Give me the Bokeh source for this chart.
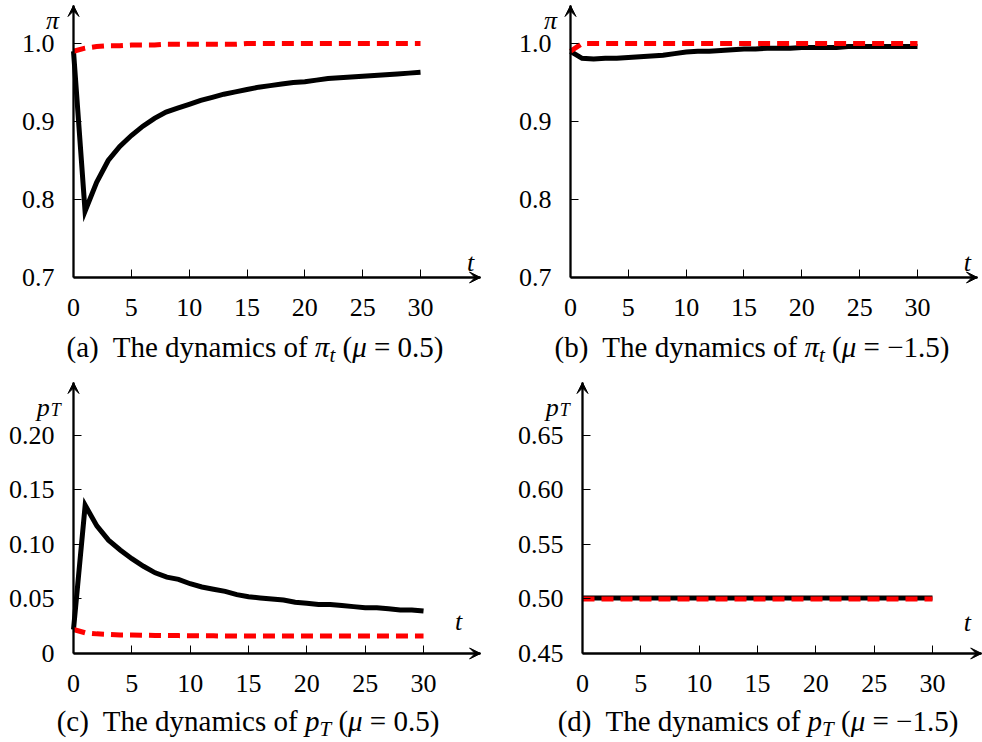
from bokeh.plotting import figure
from bokeh.models import FixedTicker, Label, Arrow, VeeHead, Div, Range1d
from bokeh.layouts import column, row
from bokeh.embed import file_html
from bokeh.resources import INLINE

# ---------------- data ----------------
t = [0, 1, 2, 3, 4, 5, 6, 7, 8, 9, 10, 11, 12, 13, 14, 15, 16, 17, 18, 19, 20,
     21, 22, 23, 24, 25, 26, 27, 28, 29, 30]

pi_a_black = [0.990, 0.785, 0.822, 0.850, 0.868, 0.882, 0.894, 0.904, 0.912, 0.917,
              0.922, 0.927, 0.931, 0.935, 0.938, 0.941, 0.944, 0.946, 0.948, 0.950,
              0.951, 0.953, 0.955, 0.956, 0.957, 0.958, 0.959, 0.960, 0.961, 0.962, 0.963]
pi_a_red = [0.990, 0.994, 0.996, 0.997, 0.997, 0.998, 0.998, 0.998, 0.999, 0.999,
            0.999, 0.999, 0.999, 0.999, 0.999, 1.000, 1.000, 1.000, 1.000, 1.000,
            1.000, 1.000, 1.000, 1.000, 1.000, 1.000, 1.000, 1.000, 1.000, 1.000, 1.000]

pi_b_black = [0.990, 0.981, 0.980, 0.981, 0.981, 0.982, 0.983, 0.984, 0.985, 0.987,
              0.989, 0.990, 0.990, 0.991, 0.992, 0.993, 0.993, 0.994, 0.994, 0.994,
              0.995, 0.995, 0.995, 0.995, 0.996, 0.996, 0.996, 0.996, 0.996, 0.996, 0.996]
pi_b_red = [0.990, 1.000, 1.000, 1.000, 1.000, 1.000, 1.000, 1.000, 1.000, 1.000,
            1.000, 1.000, 1.000, 1.000, 1.000, 1.000, 1.000, 1.000, 1.000, 1.000,
            1.000, 1.000, 1.000, 1.000, 1.000, 1.000, 1.000, 1.000, 1.000, 1.000, 1.000]

p_c_black = [0.022, 0.136, 0.117, 0.104, 0.095, 0.087, 0.080, 0.074, 0.070, 0.068,
             0.064, 0.061, 0.059, 0.057, 0.054, 0.052, 0.051, 0.050, 0.049, 0.047,
             0.046, 0.045, 0.045, 0.044, 0.043, 0.042, 0.042, 0.041, 0.040, 0.040, 0.039]
p_c_red = [0.022, 0.019, 0.018, 0.0175, 0.017, 0.017, 0.0168, 0.0166, 0.0165, 0.0164,
           0.0163, 0.0162, 0.0162, 0.0161, 0.0161, 0.016, 0.016, 0.016, 0.016, 0.016,
           0.016, 0.016, 0.016, 0.016, 0.016, 0.016, 0.016, 0.016, 0.016, 0.016, 0.016]

p_d_black = [0.501, 0.501, 0.501, 0.501, 0.501, 0.501, 0.501, 0.501, 0.501, 0.501,
             0.501, 0.501, 0.501, 0.501, 0.501, 0.501, 0.501, 0.501, 0.501, 0.501,
             0.501, 0.501, 0.501, 0.501, 0.501, 0.501, 0.501, 0.501, 0.501, 0.501, 0.501]
p_d_red = [0.500, 0.500, 0.500, 0.500, 0.500, 0.500, 0.500, 0.500, 0.500, 0.500,
           0.500, 0.500, 0.500, 0.500, 0.500, 0.500, 0.500, 0.500, 0.500, 0.500,
           0.500, 0.500, 0.500, 0.500, 0.500, 0.500, 0.500, 0.500, 0.500, 0.500, 0.500]

x_ticks = [0, 5, 10, 15, 20, 25, 30]
pi_ticks = [0.7, 0.8, 0.9, 1.0]
pi_tick_labels = ["0.7", "0.8", "0.9", "1.0"]
pc_ticks = [0.0, 0.05, 0.10, 0.15, 0.20]
pc_tick_labels = ["0", "0.05", "0.10", "0.15", "0.20"]
pd_ticks = [0.45, 0.50, 0.55, 0.60, 0.65]
pd_tick_labels = ["0.45", "0.50", "0.55", "0.60", "0.65"]

captions = [
    ("(a)", "π", "t", "0.5"),
    ("(b)", "π", "t", "−1.5"),
    ("(c)", "p", "T", "0.5"),
    ("(d)", "p", "T", "−1.5"),
]

SERIF = "Liberation Serif"


def make_fig(width, height, xr, yr, x_axis_end, y_axis_end, yticks, ylabels):
    p = figure(width=width, height=height,
               x_range=Range1d(*xr), y_range=Range1d(*yr),
               output_backend="svg", toolbar_location=None,
               min_border_left=0, min_border_right=0,
               min_border_top=0, min_border_bottom=0,
               background_fill_color="white", border_fill_color="white")
    p.grid.visible = False
    p.outline_line_color = None
    y0 = yticks[0]
    for ax in (p.xaxis[0], p.yaxis[0]):
        ax.axis_line_width = 2.3
        ax.axis_line_color = "black"
        ax.major_tick_in = 8
        ax.major_tick_out = 0
        ax.major_tick_line_width = 1
        ax.major_tick_line_color = "black"
        ax.minor_tick_line_color = None
        ax.major_label_text_font = SERIF
        ax.major_label_text_font_size = "26px"
        ax.major_label_text_color = "black"
    xa = p.xaxis[0]
    xa.fixed_location = y0
    xa.bounds = (0, x_axis_end)
    xa.ticker = FixedTicker(ticks=x_ticks)
    xa.major_label_standoff = 22
    ya = p.yaxis[0]
    ya.fixed_location = 0
    ya.bounds = (y0, y_axis_end)
    ya.ticker = FixedTicker(ticks=yticks)
    ya.major_label_overrides = {v: s for v, s in zip(yticks, ylabels)}
    ya.major_label_standoff = 19
    # arrow heads at axis ends
    p.add_layout(Arrow(end=VeeHead(size=11, fill_color="black", line_color="black", line_width=1),
                       x_start=x_axis_end - 1.0, y_start=y0, x_end=x_axis_end, y_end=y0,
                       line_alpha=0))
    p.add_layout(Arrow(end=VeeHead(size=11, fill_color="black", line_color="black", line_width=1),
                       x_start=0, y_start=y_axis_end - (y_axis_end - y0) * 0.05,
                       x_end=0, y_end=y_axis_end, line_alpha=0))
    return p


def add_lines(p, black, red):
    p.line(t, black, line_color="black", line_width=5, line_join="miter")
    p.line(t, red, line_color="#ff0000", line_width=5, line_dash="12 7")


def lab(p, x, y, text, size="26px", align="center", baseline="middle"):
    p.add_layout(Label(x=x, y=y, text=text, text_font=SERIF, text_font_style="italic",
                       text_font_size=size, text_align=align, text_baseline=baseline,
                       text_color="black"))


def caption(idx, width, height, shift, top):
    tag, sym, sub, mu = captions[idx]
    style = (f"font-family:'{SERIF}';font-size:29px;line-height:32px;text-align:center;"
             f"white-space:nowrap;width:{width}px;position:relative;left:{shift}px;"
             f"top:{top}px;color:black;")
    html = (f'<div style="{style}">{tag}&nbsp; The dynamics of <i>{sym}</i>'
            f'<i style="font-size:21px;position:relative;top:5px">{sub}</i>'
            f' (<i>μ</i> = {mu})</div>')
    return Div(text=html, width=width, height=height, margin=(0, 0, 0, 0),
               styles={"overflow": "visible"})


# (a)  axes at page x=73, y=277 ; 11.567 px per t, 780 px per unit
fa = make_fig(490, 327, (-6.311, 36.05), (0.6359, 1.0551), 35.19, 1.0487,
              pi_ticks, pi_tick_labels)
add_lines(fa, pi_a_black, pi_a_red)
lab(fa, -1.82, 1.0295, "π")
lab(fa, 34.32, 0.7192, "t")

# (b)
fb = make_fig(492, 327, (-6.916, 35.62), (0.6359, 1.0551), 35.19, 1.0487,
              pi_ticks, pi_tick_labels)
add_lines(fb, pi_b_black, pi_b_red)
lab(fb, -1.73, 1.0295, "π")
lab(fb, 34.32, 0.7192, "t")

# (c)  axes at page x=73, y=653 ; 11.667 px per t, 1090 px per unit
fc = make_fig(490, 334, (-6.257, 35.74), (-0.04679, 0.2596), 34.89, 0.2486,
              pc_ticks, pc_tick_labels)
add_lines(fc, p_c_black, p_c_red)
lab(fc, -3.15, 0.2257, "p", "26px", "left", "alphabetic")
lab(fc, -1.95, 0.2232, "T", "18px", "left", "alphabetic")
lab(fc, 33.0, 0.0294, "t")

# (d)
fd = make_fig(492, 334, (-7.886, 34.29), (0.4032, 0.7096), 34.22, 0.6986,
              pd_ticks, pd_tick_labels)
add_lines(fd, p_d_black, p_d_red)
lab(fd, -3.15, 0.6757, "p", "26px", "left", "alphabetic")
lab(fd, -1.95, 0.6732, "T", "18px", "left", "alphabetic")
lab(fd, 33.0, 0.4784, "t")

ca = caption(0, 490, 43, 10, 4)
cb = caption(1, 492, 43, 16, 4)
cc = caption(2, 490, 38, 3, 1)
cd = caption(3, 492, 38, 22, 1)

layout = column(row(column(fa, ca), column(fb, cb)),
                row(column(fc, cc), column(fd, cd)))

open("out.html", "w").write(file_html(layout, INLINE))
